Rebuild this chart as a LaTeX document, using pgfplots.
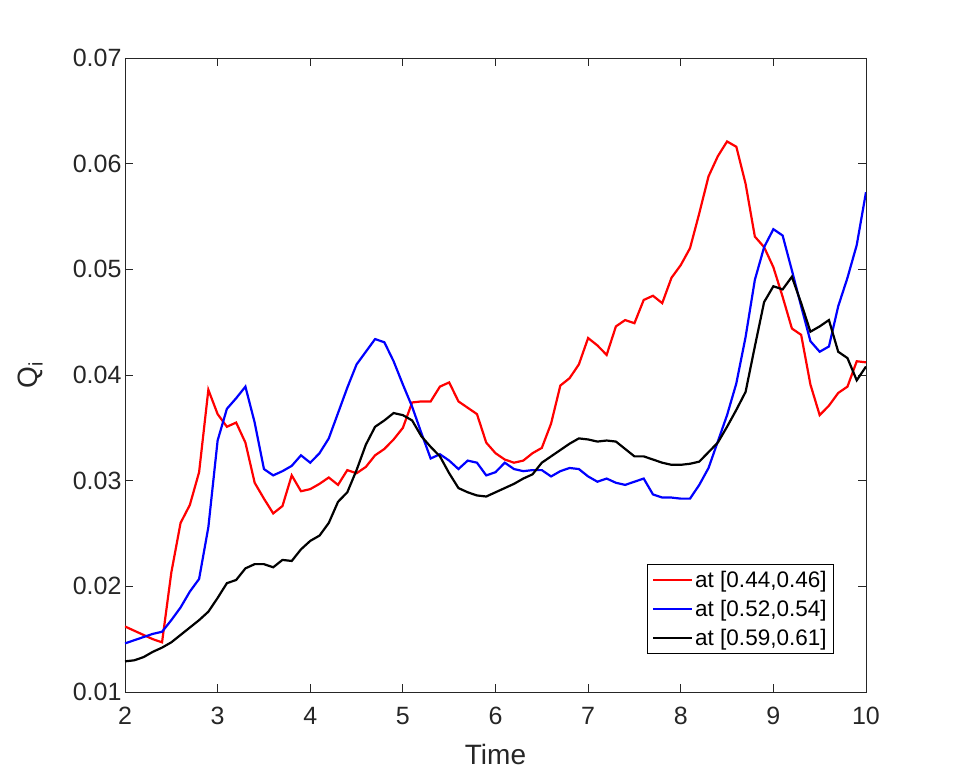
\documentclass[border=0pt]{standalone}
\usepackage{fontspec}
\setmainfont{Liberation Sans}
\usepackage{pgfplots}
\usepackage{pgfplotstable}
\pgfplotsset{compat=1.18}
\definecolor{axgray}{rgb}{0.15,0.15,0.15}

% t, red, blue, black
\pgfplotstableread{
t    r       b       k
2.0  0.0162  0.0146  0.0129
2.1  0.0158  0.0149  0.0130
2.2  0.0154  0.0152  0.0133
2.3  0.0150  0.0155  0.0138
2.4  0.0147  0.0157  0.0142
2.5  0.0213  0.0168  0.0147
2.6  0.0260  0.0180  0.0154
2.7  0.0277  0.0195  0.0161
2.8  0.0308  0.0207  0.0168
2.9  0.0386  0.0256  0.0176
3.0  0.0363  0.0338  0.0189
3.1  0.0351  0.0368  0.0203
3.2  0.0355  0.0378  0.0206
3.3  0.0336  0.0389  0.0217
3.4  0.0298  0.0355  0.0221
3.5  0.0283  0.0311  0.0221
3.6  0.0269  0.0305  0.0218
3.7  0.0276  0.0309  0.0225
3.8  0.0305  0.0314  0.0224
3.9  0.0290  0.0324  0.0235
4.0  0.0292  0.0317  0.0243
4.1  0.0297  0.0326  0.0248
4.2  0.0303  0.0340  0.0260
4.3  0.0296  0.0364  0.0280
4.4  0.0310  0.0388  0.0289
4.5  0.0307  0.0410  0.0310
4.6  0.0313  0.0422  0.0334
4.7  0.0324  0.0434  0.0351
4.8  0.0330  0.0431  0.0357
4.9  0.0339  0.0413  0.0364
5.0  0.0350  0.0391  0.0362
5.1  0.0374  0.0370  0.0357
5.2  0.0375  0.0345  0.0342
5.3  0.0375  0.0321  0.0332
5.4  0.0389  0.0325  0.0323
5.5  0.0393  0.0319  0.0307
5.6  0.0375  0.0311  0.0293
5.7  0.0369  0.0319  0.0289
5.8  0.0363  0.0317  0.0286
5.9  0.0336  0.0305  0.0285
6.0  0.0326  0.0308  0.0289
6.1  0.0320  0.0317  0.0293
6.2  0.0317  0.0311  0.0297
6.3  0.0319  0.0309  0.0302
6.4  0.0326  0.0310  0.0306
6.5  0.0331  0.0310  0.0317
6.6  0.0354  0.0304  0.0323
6.7  0.0390  0.0309  0.0329
6.8  0.0397  0.0312  0.0335
6.9  0.0410  0.0311  0.0340
7.0  0.0435  0.0304  0.0339
7.1  0.0428  0.0299  0.0337
7.2  0.0419  0.0302  0.0338
7.3  0.0446  0.0298  0.0337
7.4  0.0452  0.0296  0.0330
7.5  0.0449  0.0299  0.0323
7.6  0.0471  0.0302  0.0323
7.7  0.0475  0.0287  0.0320
7.8  0.0468  0.0284  0.0317
7.9  0.0492  0.0284  0.0315
8.0  0.0504  0.0283  0.0315
8.1  0.0520  0.0283  0.0316
8.2  0.0553  0.0296  0.0318
8.3  0.0588  0.0312  0.0327
8.4  0.0607  0.0337  0.0336
8.5  0.0621  0.0362  0.0351
8.6  0.0616  0.0392  0.0367
8.7  0.0581  0.0436  0.0384
8.8  0.0531  0.0490  0.0427
8.9  0.0521  0.0521  0.0469
9.0  0.0502  0.0538  0.0484
9.1  0.0474  0.0532  0.0481
9.2  0.0444  0.0499  0.0493
9.3  0.0438  0.0465  0.0468
9.4  0.0391  0.0432  0.0441
9.5  0.0362  0.0422  0.0446
9.6  0.0371  0.0427  0.0452
9.7  0.0383  0.0465  0.0422
9.8  0.0389  0.0492  0.0416
9.9  0.0413  0.0523  0.0395
10.0 0.0412  0.0573  0.0408
}\qdata

\begin{document}
\begin{tikzpicture}
\begin{axis}[
  at={(0pt,0pt)}, anchor=south west,
  scale only axis,
  width=741pt, height=634pt,
  xmin=2, xmax=10,
  ymin=0.01, ymax=0.07,
  xtick={2,3,...,10},
  ytick={0.01,0.02,...,0.07},
  scaled y ticks=false,
  yticklabel style={/pgf/number format/.cd, fixed, fixed zerofill, precision=2},
  xticklabel style={yshift=-12pt},
  /pgf/number format/assume math mode=true,
  tick align=inside,
  xtick pos=both, ytick pos=both,
  xticklabel pos=left, yticklabel pos=left,
  major tick length=8pt,
  axis line style={axgray, line width=0.8pt},
  every tick/.style={axgray, line width=0.8pt},
  tick label style={font=\fontsize{25}{29}\selectfont, text=axgray},
  label style={font=\fontsize{28}{33}\selectfont, text=axgray},
  xlabel={Time},
  ylabel={Q\textsubscript{i}},
  xlabel style={at={(axis description cs:0.5,-0.099)}, anchor=center},
  ylabel style={at={(axis description cs:-0.128,0.5)}, anchor=center},
  legend style={at={(axis description cs:0.9568,0.060)}, anchor=south east,
    draw=black, line width=0.8pt, fill=white,
    font=\fontsize{22.5}{26}\selectfont,
    inner xsep=5pt, inner ysep=5pt,
    nodes={inner sep=2pt},
    row sep=7pt, cells={anchor=west}},
  legend image code/.code={\draw[#1] (0pt,0pt) -- (39pt,0pt);},
  every axis plot/.append style={line width=2.2pt},
]
\addplot[red, no markers] table[x=t, y=r] {\qdata};
\addlegendentry{at [0.44,0.46]}
\addplot[blue, no markers] table[x=t, y=b] {\qdata};
\addlegendentry{at [0.52,0.54]}
\addplot[black, no markers] table[x=t, y=k] {\qdata};
\addlegendentry{at [0.59,0.61]}
\end{axis}
\path[use as bounding box] (-125pt,-87pt) rectangle (833pt,692pt);
\end{tikzpicture}
\end{document}
